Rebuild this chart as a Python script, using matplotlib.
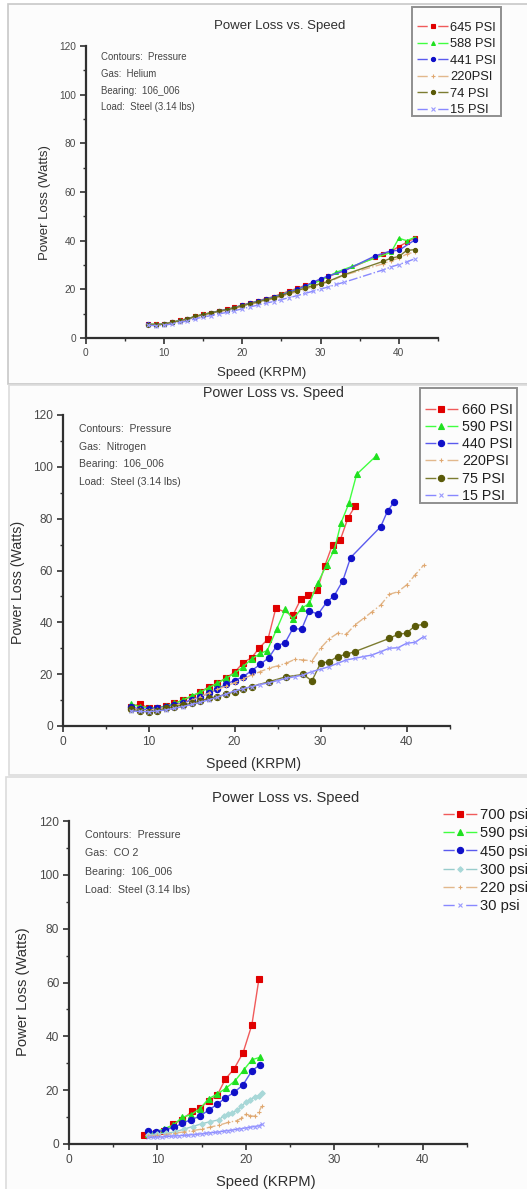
import matplotlib
matplotlib.use("Agg")
import matplotlib.pyplot as plt
from matplotlib.patches import Rectangle
from matplotlib.ticker import MultipleLocator

plt.rcParams['font.family'] = ['Liberation Sans', 'DejaVu Sans']

W, H = 527, 1189

# ---- Helium panel ----
HE_LABELS = ['645 PSI', '588 PSI', '441 PSI', '220PSI', '74 PSI', '15 PSI']
HE_X_645 = list(range(8, 32)) + [33, 37, 38, 39, 40, 41, 42]
HE_Y_645 = [5.8, 5.6, 5.8, 6.5, 7.2, 7.9, 8.9, 9.7, 10.4, 11.1, 11.8, 12.6, 13.5, 14.4,
            15.2, 16.2, 17.0, 18.2, 19.3, 20.4, 21.6, 22.7, 24.0, 25.3,
            27.6, 33.2, 34.6, 35.6, 37.6, 39.3, 41.0]
HE_X_588 = list(range(8, 31)) + [32, 34, 39, 40, 41, 42]
HE_Y_588 = [5.9, 5.6, 5.8, 6.5, 7.2, 7.9, 8.9, 9.7, 10.4, 11.1, 11.7, 12.5, 13.4, 14.3,
            15.1, 16.0, 16.8, 17.9, 19.0, 20.1, 21.2, 22.4, 23.6,
            27.0, 29.4, 35.2, 41.0, 40.0, 41.3]
HE_X_441 = list(range(8, 32)) + [33, 37, 39, 40, 42]
HE_Y_441 = [5.6, 5.5, 5.7, 6.4, 7.1, 7.8, 8.8, 9.6, 10.3, 11.1, 11.7, 12.5, 13.4, 14.3,
            15.1, 16.0, 16.8, 17.8, 18.9, 20.0, 21.2, 22.9, 24.3, 25.5,
            27.6, 33.8, 35.8, 36.0, 40.2]
HE_X_220 = list(range(8, 32)) + [33, 38, 39, 40, 41, 42]
HE_Y_220 = [5.7, 5.5, 5.6, 6.3, 7.0, 7.7, 8.7, 9.4, 10.1, 10.8, 11.4, 12.1, 13.0, 13.8,
            14.5, 15.4, 16.1, 17.1, 18.0, 19.0, 20.0, 21.0, 22.0, 23.0,
            25.8, 30.5, 31.8, 32.8, 34.5, 35.3]
HE_X_74 = list(range(8, 32)) + [33, 38, 39, 40, 41, 42]
HE_Y_74 = [5.5, 5.5, 5.7, 6.4, 7.1, 7.8, 8.9, 9.6, 10.3, 11.0, 11.6, 12.3, 13.3, 14.1,
           14.8, 15.7, 16.4, 17.5, 18.5, 19.4, 20.5, 21.5, 22.3, 23.3,
           26.0, 31.5, 32.8, 33.5, 36.0, 36.3]
HE_X_15 = list(range(8, 34)) + [38, 39, 40, 41, 42]
HE_Y_15 = [5.2, 5.1, 5.2, 5.8, 6.4, 7.0, 7.9, 8.6, 9.2, 9.9, 10.5, 11.2, 12.0, 12.8,
           13.5, 14.3, 15.0, 15.8, 16.6, 17.4, 18.3, 19.2, 20.1, 21.0, 22.0, 22.9,
           28.0, 29.2, 30.2, 31.3, 32.5]

# ---- Nitrogen panel ----
N2_LABELS = ['660 PSI', '590 PSI', '440 PSI', '220PSI', '75 PSI', '15 PSI']
N2_X_660 = [8, 9, 10, 11, 12, 13, 14, 15, 16, 17, 18, 19, 20, 21, 22, 22.9, 23.9,
            24.8, 26.8, 27.7, 28.6, 29.6, 30.5, 31.4, 32.3, 33.2, 34.0]
N2_Y_660 = [7.5, 8.5, 7.0, 7.0, 7.7, 8.7, 10.0, 11.3, 13.2, 15.0, 16.5, 18.6, 20.7,
            24.4, 26.4, 30.2, 33.6, 45.4, 42.8, 48.9, 50.5, 52.4, 61.8, 70.0, 71.8,
            80.3, 84.7]
N2_X_590 = [8, 9, 10, 11, 12, 13, 14, 15, 16, 17, 18, 19, 20, 21, 22, 23, 23.8, 24.9,
            25.9, 26.8, 27.8, 28.7, 29.7, 30.7, 31.6, 32.4, 33.3, 34.2, 36.5]
N2_Y_590 = [8.4, 7.5, 7.0, 7.0, 7.7, 8.7, 10.0, 11.6, 13.0, 14.8, 16.5, 18.4, 20.3,
            22.9, 25.9, 28.0, 29.1, 37.3, 45.0, 41.2, 45.4, 47.3, 55.3, 62.1, 67.9,
            78.5, 85.9, 97.1, 104.3]
N2_X_440 = [8, 9, 10, 11, 12, 13, 14, 15, 16, 17, 18, 19, 20, 21, 22, 23, 24, 24.9,
            25.9, 26.8, 27.8, 28.7, 29.7, 30.7, 31.6, 32.6, 33.5, 37.0, 37.8, 38.6]
N2_Y_440 = [7.2, 6.6, 6.4, 6.8, 7.5, 8.1, 9.0, 10.0, 11.3, 12.6, 14.1, 16.2, 17.5,
            19.0, 21.4, 23.8, 26.4, 30.9, 32.2, 37.7, 37.3, 44.5, 43.1, 47.7, 50.3,
            56.1, 65.0, 76.9, 83.0, 86.6]
N2_X_220 = [8, 9, 10, 11, 12, 13, 14, 15, 16, 17, 18, 19, 20, 21, 22, 23, 24, 25, 26,
            27, 28, 29, 30, 31, 32, 33, 34, 35, 36, 37, 38, 39, 40, 41, 42]
N2_Y_220 = [6.6, 6.4, 6.2, 6.6, 7.2, 7.9, 8.7, 9.9, 11.3, 12.7, 14.1, 15.4, 16.7,
            18.2, 19.7, 21.0, 22.3, 23.2, 24.2, 25.7, 25.5, 25.1, 30.0, 33.6, 35.8,
            35.4, 39.0, 41.5, 44.1, 46.7, 50.8, 51.8, 54.4, 58.3, 62.1]
N2_X_75 = [8, 9, 10, 11, 12, 13, 14, 15, 16, 17, 18, 19, 20, 21, 22, 24, 26, 28, 29,
           30, 31, 32, 33, 34, 38, 39, 40, 41, 42]
N2_Y_75 = [6.4, 5.8, 5.5, 5.9, 6.8, 7.5, 8.1, 8.7, 9.6, 10.7, 11.3, 12.3, 13.2, 14.3,
           15.2, 17.1, 19.0, 19.9, 17.4, 24.2, 24.8, 26.8, 27.7, 28.7, 33.8, 35.4,
           35.8, 38.7, 39.2]
N2_X_15 = [8, 9, 10, 11, 12, 13, 14, 15, 16, 17, 18, 19, 20, 21, 22, 23, 24, 25, 26,
           27, 28, 29, 30, 31, 32, 33, 34, 35, 36, 37, 38, 39, 40, 41, 42]
N2_Y_15 = [5.8, 5.6, 5.5, 5.8, 6.2, 6.8, 7.5, 8.3, 9.1, 10.1, 11.1, 12.3, 13.5, 14.4,
           15.2, 16.0, 16.7, 17.5, 18.4, 19.0, 19.7, 21.0, 21.9, 22.9, 24.2, 25.5,
           26.1, 26.8, 27.4, 28.7, 30.0, 30.2, 31.9, 32.3, 34.5]

# ---- CO2 panel ----
CO2_LABELS = ['700 psi', '590 psi', '450 psi', '300 psi', '220 psi', '30 psi']
CO2_X_700 = [8.5, 9.8, 10.8, 11.8, 12.8, 13.9, 14.8, 15.8, 16.8, 17.7, 18.7, 19.7,
             20.7, 21.5]
CO2_Y_700 = [3.2, 4.0, 5.0, 7.4, 9.0, 12.1, 13.4, 15.8, 18.3, 24.1, 28.0, 33.9,
             44.3, 61.4]
CO2_X_590 = [9.0, 9.8, 10.8, 11.8, 12.8, 13.8, 14.8, 15.8, 16.8, 17.8, 18.8, 19.8,
             20.7, 21.6]
CO2_Y_590 = [3.6, 4.5, 5.7, 7.0, 9.9, 10.9, 13.0, 16.8, 18.6, 20.8, 23.5, 27.6,
             31.3, 32.2]
CO2_X_450 = [9.0, 9.9, 10.9, 11.9, 12.8, 13.8, 14.8, 15.8, 16.8, 17.7, 18.7, 19.7,
             20.7, 21.6]
CO2_Y_450 = [4.7, 4.5, 5.2, 6.2, 7.7, 9.0, 10.3, 12.6, 14.8, 17.1, 19.2, 22.0,
             27.2, 29.4]
CO2_X_300 = [9, 10, 11, 12, 13, 14, 15, 16, 17, 17.5, 18, 18.5, 19, 19.5, 20, 20.5,
             21, 21.5, 21.8]
CO2_Y_300 = [3.5, 3.7, 4.0, 4.5, 5.5, 6.5, 7.5, 8.3, 9.0, 10.5, 11.0, 11.5, 12.5,
             14.0, 15.5, 16.5, 17.5, 18.0, 19.0]
CO2_X_220 = [9, 10, 11, 12, 13, 14, 15, 16, 17, 18, 19, 19.5, 20, 20.5, 21, 21.5,
             21.8]
CO2_Y_220 = [3.0, 3.2, 3.5, 4.0, 4.5, 5.0, 5.5, 6.3, 7.0, 8.0, 8.7, 9.5, 11.0, 10.5,
             10.3, 12.0, 14.0]
CO2_X_30 = [9, 9.5, 10, 10.5, 11, 11.5, 12, 12.5, 13, 13.5, 14, 14.5, 15, 15.5, 16,
            16.5, 17, 17.5, 18, 18.5, 19, 19.5, 20, 20.5, 21, 21.5, 21.8]
CO2_Y_30 = [2.5, 2.5, 2.6, 2.6, 2.8, 2.9, 3.0, 3.1, 3.2, 3.3, 3.5, 3.6, 3.8, 4.0,
            4.2, 4.3, 4.5, 4.8, 5.0, 5.2, 5.5, 5.7, 6.0, 6.2, 6.5, 6.8, 7.3]

NOTES_HE = ['Contours:  Pressure', 'Gas:  Helium', 'Bearing:  106_006',
            'Load:  Steel (3.14 lbs)']
NOTES_N2 = ['Contours:  Pressure', 'Gas:  Nitrogen', 'Bearing:  106_006',
            'Load:  Steel (3.14 lbs)']
NOTES_CO2 = ['Contours:  Pressure', 'Gas:  CO 2', 'Bearing:  106_006',
             'Load:  Steel (3.14 lbs)']

# (line colour, marker colour, marker, linestyle)
STYLE = {
    'red': ('#f05a5a', '#e00000', 's', '-'),
    'green': ('#40ff40', '#20e020', '^', '-'),
    'blue': ('#5a5aee', '#1010c8', 'o', '-'),
    'teal': ('#98cccc', '#a8d8d8', 'D', '-'),
    'tan': ('#e2b88c', '#e0a870', '+', '-.'),
    'olive': ('#7c7c30', '#5a5a08', 'o', '-'),
    'violet': ('#8888ff', '#9a9aff', 'x', '-.'),
}


def fx(x):
    return x / W


def fy(y):
    return 1 - y / H


def rect(fig, x0, y0, x1, y1, face, edge, lw, z):
    fig.patches.append(Rectangle((fx(x0), fy(y1)), fx(x1 - x0), fy(y0) - fy(y1),
                                 transform=fig.transFigure, facecolor=face,
                                 edgecolor=edge, lw=lw, zorder=z))


def make_axes(fig, x0, x1, y0, y120, fs):
    # pixel positions of x=0, x=45, y=0 and y=120
    ax = fig.add_axes([fx(x0), fy(y0), fx(x1 - x0), (y0 - y120) / H])
    ax.set_xlim(0, 45)
    ax.set_ylim(0, 120)
    ax.patch.set_alpha(0)
    for s in ['top', 'right']:
        ax.spines[s].set_visible(False)
    for s in ['left', 'bottom']:
        ax.spines[s].set_linewidth(1.6)
        ax.spines[s].set_color('#303030')
    ax.xaxis.set_major_locator(MultipleLocator(10))
    ax.xaxis.set_minor_locator(MultipleLocator(5))
    ax.yaxis.set_major_locator(MultipleLocator(20))
    ax.yaxis.set_minor_locator(MultipleLocator(10))
    ax.tick_params(which='major', length=4, width=1.2, color='#303030',
                   labelsize=fs, labelcolor='#4a4a4a', pad=3)
    ax.tick_params(which='minor', length=2.5, width=1.0, color='#303030')
    return ax


def draw(ax, xs, ys, style, label, ms, ls=None):
    lc, mc, mk, dls = STYLE[style]
    ax.plot(xs, ys, color=lc, lw=1.0, ls=ls or dls, marker=mk, ms=ms, mfc=mc,
            mec=mc, mew=0.8, label=label)


def legend(ax, x, y, fs, hl, pad, spacing):
    leg = ax.legend(loc='upper left', bbox_to_anchor=(fx(x), fy(y)),
                    bbox_transform=ax.figure.transFigure, fontsize=fs,
                    frameon=False, handlelength=hl, handletextpad=pad,
                    labelspacing=spacing, borderpad=0, borderaxespad=0,
                    numpoints=1)
    # Origin style handle: line, gap, marker, gap, line
    span = hl * fs
    for t in leg.get_texts():
        t.set_color('#202020')
    for ln in leg.get_lines():
        ln.set_linestyle((0, (span * 0.33, span * 0.34)))
    return leg


def texts(fig, title, tpos, xl, xpos, yl, ypos, fs, notes, nx, ny, nfs, ndy):
    fig.text(fx(tpos[0]), fy(tpos[1]), title, ha='center', va='center',
             fontsize=fs, color='#303030')
    fig.text(fx(xpos[0]), fy(xpos[1]), xl, ha='center', va='center',
             fontsize=fs, color='#303030')
    fig.text(fx(ypos[0]), fy(ypos[1]), yl, ha='center', va='center',
             fontsize=fs, color='#303030', rotation=90)
    for i, n in enumerate(notes):
        fig.text(fx(nx), fy(ny + i * ndy), n, ha='left', va='center',
                 fontsize=nfs, color='#454545')


fig = plt.figure(figsize=(W / 100, H / 100), dpi=100)
fig.patch.set_facecolor('white')

# the three screenshot panels
rect(fig, 8, 4, W + 5, 384, '#fcfcfc', '#c8c8c8', 1.2, -5)
rect(fig, 9, 385, W + 5, 775, '#fcfcfc', '#dcdcdc', 1.2, -5)
rect(fig, 6, 777, W + 5, H + 5, '#fcfcfc', '#dcdcdc', 1.2, -5)

# Helium
ax1 = make_axes(fig, 85.7, 438, 338, 46, 7.3)
draw(ax1, HE_X_645, HE_Y_645, 'red', HE_LABELS[0], 2.5)
draw(ax1, HE_X_588, HE_Y_588, 'green', HE_LABELS[1], 2.8)
draw(ax1, HE_X_441, HE_Y_441, 'blue', HE_LABELS[2], 3.0)
draw(ax1, HE_X_220, HE_Y_220, 'tan', HE_LABELS[3], 2.5)
draw(ax1, HE_X_74, HE_Y_74, 'olive', HE_LABELS[4], 3.0)
draw(ax1, HE_X_15, HE_Y_15, 'violet', HE_LABELS[5], 2.2)
rect(fig, 412, 7, 501, 116, 'none', '#909090', 1.4, 5)
legend(ax1, 417, 21.5, 9.3, 2.4, 0.15, 0.35)
texts(fig, 'Power Loss vs. Speed', (280, 26), 'Speed (KRPM)', (262, 373),
      'Power Loss (Watts)', (45, 203), 9.5, NOTES_HE, 101, 57, 6.9, 16.8)

# Nitrogen
ax2 = make_axes(fig, 62.5, 449.5, 726, 415, 8.6)
draw(ax2, N2_X_660, N2_Y_660, 'red', N2_LABELS[0], 4.0)
draw(ax2, N2_X_590, N2_Y_590, 'green', N2_LABELS[1], 4.5)
draw(ax2, N2_X_440, N2_Y_440, 'blue', N2_LABELS[2], 4.5)
draw(ax2, N2_X_220, N2_Y_220, 'tan', N2_LABELS[3], 2.5)
draw(ax2, N2_X_75, N2_Y_75, 'olive', N2_LABELS[4], 4.5)
draw(ax2, N2_X_15, N2_Y_15, 'violet', N2_LABELS[5], 3.0, ls='-')
rect(fig, 420, 388, 517, 503, 'none', '#909090', 1.4, 5)
legend(ax2, 425, 403, 10.3, 2.3, 0.28, 0.22)
texts(fig, 'Power Loss vs. Speed', (273, 393), 'Speed (KRPM)', (254, 764),
      'Power Loss (Watts)', (18, 582), 10.2, NOTES_N2, 79, 429, 7.5, 17.6)

# CO2
ax3 = make_axes(fig, 68.9, 466.7, 1144, 821, 8.6)
draw(ax3, CO2_X_700, CO2_Y_700, 'red', CO2_LABELS[0], 4.0)
draw(ax3, CO2_X_590, CO2_Y_590, 'green', CO2_LABELS[1], 4.5)
draw(ax3, CO2_X_450, CO2_Y_450, 'blue', CO2_LABELS[2], 4.5)
draw(ax3, CO2_X_300, CO2_Y_300, 'teal', CO2_LABELS[3], 2.8)
draw(ax3, CO2_X_220, CO2_Y_220, 'tan', CO2_LABELS[4], 2.5)
draw(ax3, CO2_X_30, CO2_Y_30, 'violet', CO2_LABELS[5], 3.0, ls='-')
legend(ax3, 443, 808, 10.6, 2.3, 0.2, 0.29)
texts(fig, 'Power Loss vs. Speed', (286, 798), 'Speed (KRPM)', (266, 1182),
      'Power Loss (Watts)', (23, 992), 10.6, NOTES_CO2, 85, 835, 7.7, 18.4)

fig.savefig('out.png', dpi=100)
